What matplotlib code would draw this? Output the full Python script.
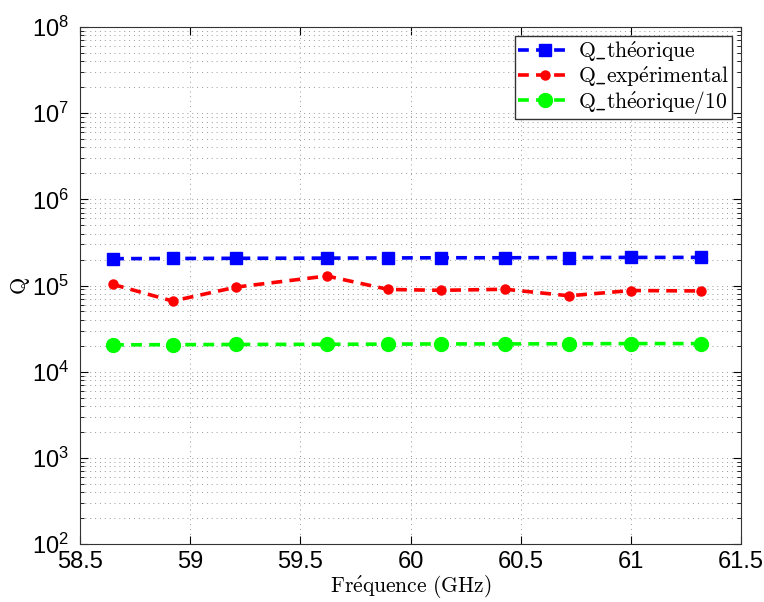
import matplotlib
matplotlib.use('Agg')
import matplotlib.pyplot as plt
from matplotlib.ticker import LogLocator, NullFormatter, MultipleLocator, FormatStrFormatter
import numpy as np

# frequences (GHz) et facteurs de qualite
freq = [58.65, 58.92, 59.21, 59.62, 59.90, 60.14, 60.43, 60.72, 61.00, 61.32]
q_theo = [2.05e5, 2.06e5, 2.07e5, 2.08e5, 2.09e5, 2.10e5, 2.10e5, 2.11e5, 2.12e5, 2.12e5]
q_exp = [1.03e5, 6.6e4, 9.6e4, 1.29e5, 9.0e4, 8.8e4, 9.05e4, 7.6e4, 8.75e4, 8.65e4]
q_theo10 = [q / 10 for q in q_theo]

plt.rcParams['font.family'] = ['Liberation Sans', 'DejaVu Sans']
plt.rcParams['mathtext.fontset'] = 'cm'

fig = plt.figure(figsize=(7.64, 6.02), dpi=100)
ax = fig.add_axes([0.1047, 0.0963, 0.8653, 0.8588])

dash = (0, (3, 2))
ax.plot(freq, q_theo, color='#0000ff', ls=dash, lw=2.6, marker='s', ms=8,
        label=r'$\mathrm{Q\_th\acute{e}orique}$')
ax.plot(freq, q_exp, color='#ff0000', ls=dash, lw=2.6, marker='o', ms=6.5,
        label=r'$\mathrm{Q\_exp\acute{e}rimental}$')
ax.plot(freq, q_theo10, color='#00ff00', ls=dash, lw=2.6, marker='o', ms=10,
        label=r'$\mathrm{Q\_th\acute{e}orique/10}$')

ax.set_yscale('log')
ax.set_xlim(58.5, 61.5)
ax.set_ylim(1e2, 1e8)
ax.xaxis.set_major_locator(MultipleLocator(0.5))
ax.xaxis.set_major_formatter(FormatStrFormatter('%g'))
ax.yaxis.set_major_locator(LogLocator(base=10, numticks=10))
ax.yaxis.set_minor_locator(LogLocator(base=10, subs=np.arange(2, 10), numticks=20))
ax.yaxis.set_minor_formatter(NullFormatter())

gridstyle = (0, (1, 4))
ax.grid(True, which='major', ls=gridstyle, color='#999999', lw=0.7)
ax.grid(True, which='minor', axis='y', ls=gridstyle, color='#999999', lw=0.7)
ax.tick_params(which='both', direction='in', top=True, right=True, labelsize=17)
ax.tick_params(axis='x', pad=5)
ax.tick_params(axis='y', pad=8)
ax.tick_params(which='major', length=6)
ax.tick_params(which='minor', length=3)
for s in ax.spines.values():
    s.set_color('#333333')

ax.set_xlabel(r'$\mathrm{Fr\acute{e}quence\ (GHz)}$', fontsize=15.5, labelpad=0)
ax.set_ylabel(r'$\mathrm{Q}$', fontsize=16, labelpad=0)

leg = ax.legend(loc='upper right', fontsize=15.5, fancybox=False, framealpha=1,
                edgecolor='#333333', borderpad=0.15, labelspacing=0.0,
                handlelength=2.5, handletextpad=0.3, borderaxespad=0.4)
leg.get_frame().set_linewidth(1.0)

fig.savefig('out.png', dpi=100)
